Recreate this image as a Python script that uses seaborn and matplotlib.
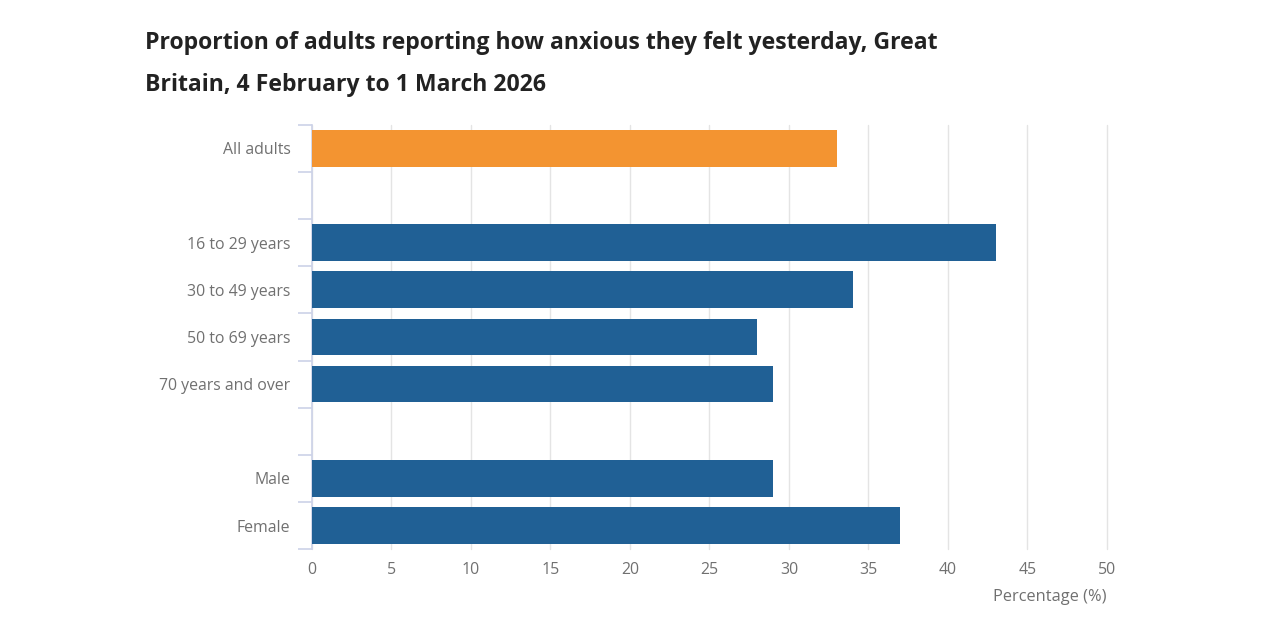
import numpy as np
import pandas as pd
import seaborn as sns
import matplotlib.pyplot as plt

# Data
categories = ["All adults", "16 to 29 years", "30 to 49 years", "50 to 69 years",
              "70 years and over", "Male", "Female"]
percentages = [33, 43, 34, 28, 29, 29, 37]
groups = ["All", "Age", "Age", "Age", "Age", "Sex", "Sex"]
x_ticks = [0, 5, 10, 15, 20, 25, 30, 35, 40, 45, 50]

# blank rows separate the groups
row_order = ["All adults", " ", "16 to 29 years", "30 to 49 years", "50 to 69 years",
             "70 years and over", "  ", "Male", "Female"]

df = pd.DataFrame({"Category": categories, "Percentage": percentages, "Group": groups})

sns.set_theme(style="white")
plt.rcParams["font.family"] = ["Open Sans", "DejaVu Sans"]

ORANGE = "#f39431"
BLUE = "#206095"
TEXT = "#707070"
AXIS = "#ccd2e8"
GRID = "#e4e4e4"

fig = plt.figure(figsize=(12.8, 6.4), dpi=100)
ax = fig.add_axes([0.24375, 0.142, 0.621, 0.663])

sns.barplot(data=df, x="Percentage", y="Category", hue="Group", order=row_order,
            palette={"All": ORANGE, "Age": BLUE, "Sex": BLUE}, dodge=False,
            saturation=1, width=0.78, linewidth=0, legend=False, ax=ax, zorder=3)

ax.set_xlim(0, 50)
ax.set_ylim(len(row_order) - 0.5, -0.5)
ax.set_xticks(x_ticks)
ax.xaxis.grid(True, color=GRID, linewidth=1, zorder=0)
for gl in ax.get_xgridlines():
    gl.set_clip_on(False)
ax.set_axisbelow(True)

for side in ["top", "right", "bottom"]:
    ax.spines[side].set_visible(False)
ax.spines["left"].set_color(AXIS)
ax.spines["left"].set_linewidth(1.2)

# labels centred on rows, tick marks on row boundaries
ax.set_yticks(range(len(row_order)))
ax.set_yticklabels(row_order)
ax.set_yticks(np.arange(-0.5, len(row_order), 1), minor=True)
ax.tick_params(axis="y", which="major", length=0, pad=15.5, labelsize=11.4, labelcolor=TEXT)
ax.tick_params(axis="y", which="minor", length=10, width=1.2, color=AXIS, left=True)
ax.tick_params(axis="x", length=0, pad=9, labelsize=11.4, labelcolor=TEXT)

ax.set_ylabel("")
ax.set_xlabel("Percentage (%)", fontsize=11.8, color=TEXT, loc="right", labelpad=8)

fig.text(0.113, 0.933, "Proportion of adults reporting how anxious they felt yesterday, Great",
         fontsize=16.6, fontweight="bold", color="#222222", va="center")
fig.text(0.113, 0.867, "Britain, 4 February to 1 March 2026",
         fontsize=16.6, fontweight="bold", color="#222222", va="center")

fig.savefig("out.png", dpi=100, facecolor="white")
